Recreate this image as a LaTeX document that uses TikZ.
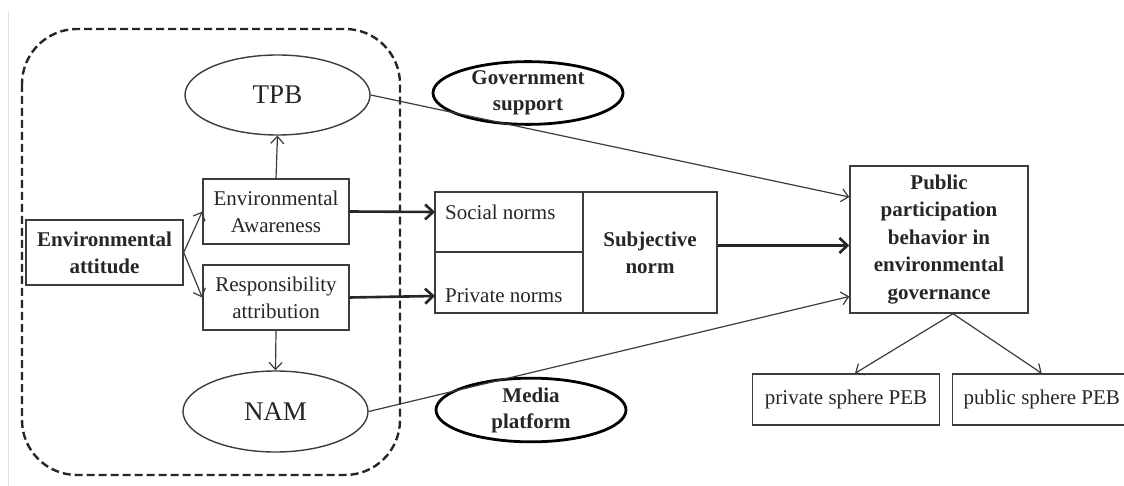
\documentclass[tikz,border=0pt]{standalone}
\usepackage{fontspec}
\setmainfont{Liberation Serif}
\usetikzlibrary{shapes.geometric,arrows.meta}

\definecolor{inkgray}{HTML}{262626}
\definecolor{linegray}{HTML}{3C3C3C}

\tikzset{
  box/.style={draw=linegray, line width=1.4pt, rectangle, align=center, inner sep=0pt,
    text=inkgray, font=\fontsize{21}{27}\selectfont},
  oval/.style={draw=linegray, line width=1.4pt, ellipse, inner sep=0pt,
    text=inkgray, font=\fontsize{27}{30}\selectfont},
  boldoval/.style={draw=black, line width=2.8pt, ellipse, inner sep=0pt, align=center,
    text=inkgray, font=\fontsize{21}{26}\selectfont\bfseries},
  thinarrow/.style={-{Straight Barb[length=7pt,width=13pt]}, draw=linegray, line width=1.2pt},
  thickarrow/.style={-{Straight Barb[length=8pt,width=15pt]}, draw=black!85, line width=2.6pt}
}

\begin{document}
\begin{tikzpicture}[x=1pt, y=-1pt]
        \useasboundingbox (0,0) rectangle (1124,486);
        \fill[white] (0,0) rectangle (1124,486);
        \draw[gray!25, line width=0.8pt] (8,12) -- (8,486);

        % Dashed frame round the attitude models
        \draw[black!85, line width=2.4pt, dash pattern=on 8pt off 4pt, rounded corners=55pt]
            (22,29) rectangle (400,475);

        % Left part
        \node[box, minimum width=157, minimum height=65, font=\fontsize{21}{27}\selectfont\bfseries]
            (att) at (104.5,252.5) {Environmental\\attitude};
        \node[box, minimum width=146, minimum height=65] (aware) at (276,211.5) {Environmental\\Awareness};
        \node[box, minimum width=146, minimum height=65] (resp) at (276,297.5) {Responsibility\\attribution};
        \node[oval, minimum width=185, minimum height=80] (tpb) at (277.5,95) {TPB};
        \node[oval, minimum width=185, minimum height=81] (nam) at (275.5,411.5) {NAM};

        % Moderators
        \node[boldoval, minimum width=190, minimum height=57] (gov) at (528,93) {Government\\support};
        \node[boldoval, minimum width=190, minimum height=57] (media) at (531,410) {Media\\platform};

        % Norms
        \node[box, minimum width=148, minimum height=60] (social) at (509,222) {};
        \node[box, minimum width=148, minimum height=61] (private) at (509,282.5) {};
        \node[box, minimum width=134, minimum height=121, font=\fontsize{21}{27}\selectfont\bfseries]
            (subj) at (650,252.5) {Subjective\\norm};
        \node[anchor=west, inner xsep=10pt, inner ysep=0pt, text=inkgray, font=\fontsize{21}{27}\selectfont]
            (socialtxt) at (435,212) {Social norms};
        \node[anchor=west, inner xsep=10pt, inner ysep=0pt, text=inkgray, font=\fontsize{21}{27}\selectfont]
            (privatetxt) at (435,296) {Private norms};

        % Outcome
        \node[box, minimum width=178, minimum height=147, font=\fontsize{21}{27.5}\selectfont\bfseries]
            (pub) at (939,239.5) {Public\\participation\\behavior in\\environmental\\governance};
        \node[box, minimum width=187, minimum height=51] (privpeb) at (846,399.5) {private sphere PEB};
        \node[box, minimum width=178, minimum height=51, anchor=west] (pubpeb) at (952,399.5) {public sphere PEB};

        % Connectors
        \draw[thinarrow] (att.east) -- (aware.west);
        \draw[thinarrow] (att.east) -- (resp.west);
        \draw[thinarrow] (aware.north) -- (tpb.south);
        \draw[thinarrow] (resp.south) -- (nam.north);
        \draw[thickarrow] (aware.east) -- (socialtxt.west);
        \draw[thickarrow] (resp.east) -- (privatetxt.west);
        \draw[thickarrow] ([yshift=7pt]subj.east) -- ([yshift=7pt]subj.east -| pub.west);
        \draw[thinarrow] (tpb.east) -- ([yshift=42.5pt]pub.west);
        \draw[thinarrow] (nam.east) -- ([yshift=-57pt]pub.west);
        \draw[thinarrow] ([xshift=14pt]pub.south) -- ([xshift=9pt]privpeb.north);
        \draw[thinarrow] ([xshift=14pt]pub.south) -- (pubpeb.north);
\end{tikzpicture}
\end{document}
